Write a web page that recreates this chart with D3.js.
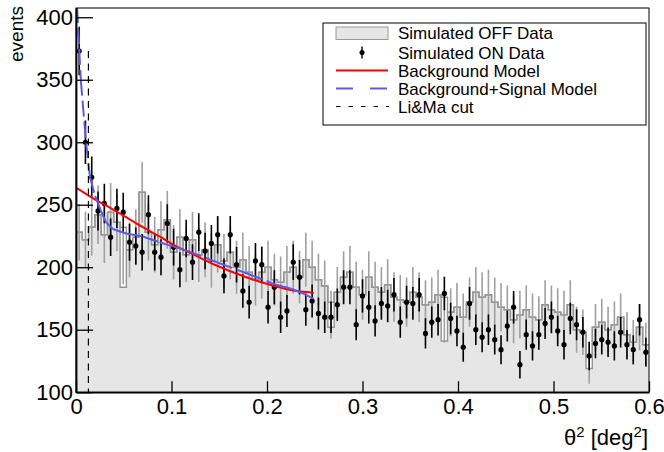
<!DOCTYPE html>
<html>
<head>
<meta charset="utf-8">
<script src="https://cdn.jsdelivr.net/npm/d3@7"></script>
<style>
  body { margin: 0; background: #fff; }
  svg { display: block; }
  text { font-family: "Liberation Sans", Arial, Helvetica, sans-serif; fill: #000; }
</style>
</head>
<body>
<div id="chart"></div>
<script>
// binning of the theta^2 histograms
const nBins = 91;
const xRange = [0, 0.6];

// ON counts per bin (black points)
const onCounts = [373,300,272,245,251,224,247,244,220,217,
  212,242,212,208,235,216,198,223,204,228,
  213,219,226,193,226,202,181,172,205,202,
  168,184,160,165,204,192,166,173,163,160,
  160,170,184,184,154,177,168,157,171,169,
  178,156,172,171,178,147,156,158,179,159,
  149,136,171,150,144,150,142,134,153,168,
  122,146,137,146,155,160,149,138,159,154,
  148,129,139,142,140,137,148,138,134,158,
  132];

// OFF histogram: upper outline and top of the grey fill
const offHigh = [228,222,232,242,226,244,236,232,214,224,
  260,228,218,230,238,212,224,210,222,210,
  214,205,218,205,212,200,206,196,190,196,
  200,190,188,196,200,192,206,200,190,185,
  172,180,192,196,184,178,192,184,180,186,
  176,174,172,180,176,170,172,178,176,164,
  168,160,172,180,176,178,172,168,166,158,
  162,166,160,158,170,166,164,162,170,150,
  148,128,152,156,150,154,160,146,140,152,
  138];
const offLow = [228,222,232,242,226,244,236,184,214,224,
  260,228,218,230,238,212,224,210,222,210,
  214,205,218,205,212,200,206,196,190,196,
  200,190,188,196,200,192,206,200,190,185,
  152,180,192,196,184,178,192,184,180,186,
  176,174,172,180,176,170,172,178,141,164,
  168,160,172,180,176,178,172,168,166,158,
  162,166,160,158,170,166,164,162,170,150,
  148,119,152,156,150,154,160,146,140,152,
  138];

// model curves: [theta^2, events]
const bgModel = [[0,263.7],[0.021,253.7],[0.035,247.9],[0.0524,240],[0.07,232],
  [0.0874,224.6],[0.105,216.7],[0.1154,213],[0.144,202.4],[0.179,191.8],
  [0.2105,184.4],[0.2245,181.7],[0.249,179.6]];
const sigModel = [[0,425],[0.005,350],[0.0105,300],[0.0147,272],[0.02,257],
  [0.0262,245],[0.0315,236],[0.0385,230.6],[0.0524,227],[0.07,224.6],
  [0.0874,220],[0.1014,216.7],[0.1154,213.5],[0.1476,204],[0.179,195],
  [0.2105,185.7],[0.2245,183],[0.235,180],[0.249,174.6]];

// Li&Ma cut
const cutX = 0.013;
const cutTop = 373;

const xTicks = [0, 0.1, 0.2, 0.3, 0.4, 0.5, 0.6];
const yTicks = [100, 150, 200, 250, 300, 350, 400];
const legendLabels = ["Simulated OFF Data", "Simulated ON Data", "Background Model",
  "Background+Signal Model", "Li&Ma cut"];

const margin = { top: 8, right: 15, bottom: 59.8, left: 76 };
const width = 664 - margin.left - margin.right;
const height = 452 - margin.top - margin.bottom;

const svg = d3.select("#chart").append("svg")
    .attr("width", 664)
    .attr("height", 452);

const g = svg.append("g")
    .attr("transform", `translate(${margin.left},${margin.top})`);

svg.append("defs").append("clipPath").attr("id", "clip")
  .append("rect").attr("width", width).attr("height", height);

const x = d3.scaleLinear().domain(xRange).range([0, width]);
const y = d3.scaleLinear().domain([100, 407.4]).range([height, 0]);

const binW = (xRange[1] - xRange[0]) / nBins;
const edge = i => xRange[0] + i * binW;
const center = i => xRange[0] + (i + 0.5) * binW;

const plot = g.append("g").attr("clip-path", "url(#clip)");

// step outlines
const stepPts = arr => arr.map((v, i) => [edge(i), v]).concat([[edge(nBins), arr[nBins - 1]]]);

const area = d3.area()
    .x(d => x(d[0]))
    .y0(height)
    .y1(d => y(d[1]))
    .curve(d3.curveStepAfter);
const step = d3.line()
    .x(d => x(d[0]))
    .y(d => y(d[1]))
    .curve(d3.curveStepAfter);

plot.append("path")
    .datum(stepPts(offLow))
    .attr("d", area)
    .attr("fill", "#e6e6e6");

// white gaps where the outline sits above the fill
plot.selectAll(".gap")
    .data(offHigh.map((v, i) => ({ i, hi: v, lo: offLow[i] })).filter(d => d.hi > d.lo))
    .enter().append("rect")
    .attr("x", d => x(edge(d.i)))
    .attr("width", x(binW) - x(0))
    .attr("y", d => y(d.hi))
    .attr("height", d => y(d.lo) - y(d.hi))
    .attr("fill", "#fff");

[offLow, offHigh].forEach(arr => {
  plot.append("path")
      .datum(stepPts(arr))
      .attr("d", step)
      .attr("fill", "none")
      .attr("stroke", "#959595")
      .attr("stroke-width", 1.4);
});

// OFF error bars (scaled counts)
plot.selectAll(".offErr")
    .data(offHigh.map((v, i) => ({ i, c: (v + offLow[i]) / 2 })))
    .enter().append("line")
    .attr("x1", d => x(center(d.i)))
    .attr("x2", d => x(center(d.i)))
    .attr("y1", d => y(d.c - 1.5 * Math.sqrt(d.c)))
    .attr("y2", d => y(d.c + 1.5 * Math.sqrt(d.c)))
    .attr("stroke", "#a0a0a0")
    .attr("stroke-width", 1.6);

// ON points
plot.selectAll(".onErr")
    .data(onCounts)
    .enter().append("line")
    .attr("x1", (d, i) => x(center(i)))
    .attr("x2", (d, i) => x(center(i)))
    .attr("y1", d => y(d - Math.sqrt(d)))
    .attr("y2", d => y(d + Math.sqrt(d)))
    .attr("stroke", "#000")
    .attr("stroke-width", 1.6);

plot.selectAll(".onPt")
    .data(onCounts)
    .enter().append("circle")
    .attr("cx", (d, i) => x(center(i)))
    .attr("cy", d => y(d))
    .attr("r", 2.6)
    .attr("fill", "#000");

// models
const line = d3.line().x(d => x(d[0])).y(d => y(d[1]));

plot.append("path")
    .datum(bgModel)
    .attr("d", line.curve(d3.curveMonotoneX))
    .attr("fill", "none")
    .attr("stroke", "#ff0000")
    .attr("stroke-width", 2);

// dashed pattern restarts on every segment, like the original
d3.pairs(sigModel).forEach(seg => {
  plot.append("path")
      .datum(seg)
      .attr("d", d3.line().x(d => x(d[0])).y(d => y(d[1])))
      .attr("fill", "none")
      .attr("stroke", "#5a5ae6")
      .attr("stroke-width", 2)
      .attr("stroke-dasharray", "16,5");
});

plot.append("line")
    .attr("x1", x(cutX)).attr("x2", x(cutX))
    .attr("y1", y(cutTop)).attr("y2", height)
    .attr("stroke", "#000")
    .attr("stroke-width", 1.2)
    .attr("stroke-dasharray", "7,5.5");

// frame
g.append("rect")
    .attr("width", width).attr("height", height)
    .attr("fill", "none").attr("stroke", "#000").attr("stroke-width", 1);

// axes, ticks drawn inward like ROOT
const minorX = d3.range(0, 0.6001, 0.02);
const minorY = d3.range(100, 407, 10);

const xAxis = g.append("g").attr("transform", `translate(0,${height})`);
xAxis.call(d3.axisBottom(x).tickValues(minorX).tickSize(-6).tickSizeOuter(0).tickFormat(""));
xAxis.call(d3.axisBottom(x).tickValues(xTicks).tickSize(-11).tickSizeOuter(0).tickPadding(6)
    .tickFormat(d => d === 0 ? "0" : d3.format(".1f")(d)));
xAxis.selectAll("path.domain").attr("stroke-width", 1.8);
xAxis.selectAll("line").attr("stroke-width", 1.3);
xAxis.selectAll("text").style("font-size", "22px").attr("fill", "#000");

const yAxis = g.append("g");
yAxis.call(d3.axisLeft(y).tickValues(minorY).tickSize(-8.5).tickSizeOuter(0).tickFormat(""));
yAxis.call(d3.axisLeft(y).tickValues(yTicks).tickSize(-17).tickSizeOuter(0).tickPadding(3)
    .tickFormat(d3.format("d")));
yAxis.selectAll("path.domain").attr("stroke-width", 1.8);
yAxis.selectAll("line").attr("stroke-width", 1.3);
yAxis.selectAll("text").style("font-size", "22px").attr("fill", "#000");

// axis titles
svg.append("text")
    .attr("transform", "translate(23,6) rotate(-90)")
    .attr("text-anchor", "end")
    .style("font-size", "19px")
    .text("events");

const xt = svg.append("text")
    .attr("x", 648).attr("y", 445)
    .attr("text-anchor", "end")
    .style("font-size", "22px");
xt.append("tspan").text("\u03b8");
xt.append("tspan").attr("baseline-shift", "super").style("font-size", "15px").text("2");
xt.append("tspan").text(" [deg");
xt.append("tspan").attr("baseline-shift", "super").style("font-size", "15px").text("2");
xt.append("tspan").text("]");

// legend
const lg = svg.append("g");
lg.append("rect")
    .attr("x", 323).attr("y", 23).attr("width", 323).attr("height", 102)
    .attr("fill", "#fff").attr("stroke", "#000").attr("stroke-width", 1);

const rowY = [33, 52.5, 70.5, 88.5, 106.5];
lg.selectAll(".lab")
    .data(legendLabels)
    .enter().append("text")
    .attr("x", 398)
    .attr("y", (d, i) => rowY[i])
    .attr("dy", "0.36em")
    .style("font-size", "17px")
    .text(d => d);

lg.append("rect")
    .attr("x", 336).attr("y", rowY[0] - 6).attr("width", 52).attr("height", 12.5)
    .attr("fill", "#e6e6e6").attr("stroke", "#999");
lg.append("line")
    .attr("x1", 362).attr("x2", 362).attr("y1", rowY[1] - 6).attr("y2", rowY[1] + 6)
    .attr("stroke", "#000").attr("stroke-width", 1.4);
lg.append("circle").attr("cx", 362).attr("cy", rowY[1]).attr("r", 2.5).attr("fill", "#000");
lg.append("line")
    .attr("x1", 336).attr("x2", 388).attr("y1", rowY[2]).attr("y2", rowY[2])
    .attr("stroke", "#ff0000").attr("stroke-width", 2);
lg.append("line")
    .attr("x1", 336).attr("x2", 389).attr("y1", rowY[3]).attr("y2", rowY[3])
    .attr("stroke", "#5a5ae6").attr("stroke-width", 2).attr("stroke-dasharray", "17,17");
lg.append("line")
    .attr("x1", 336).attr("x2", 389).attr("y1", rowY[4]).attr("y2", rowY[4])
    .attr("stroke", "#000").attr("stroke-width", 1.2).attr("stroke-dasharray", "4.5,8");
</script>
</body>
</html>
